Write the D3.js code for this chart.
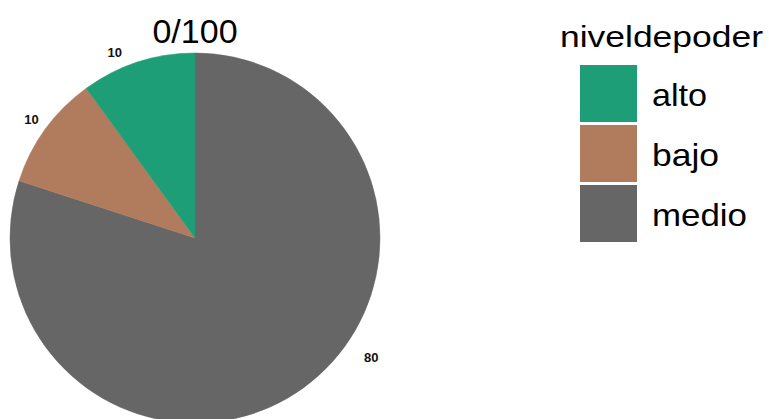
<!DOCTYPE html>
<html>
<head>
<meta charset="utf-8">
<script src="https://cdn.jsdelivr.net/npm/d3@7"></script>
<style>
  html, body { margin: 0; padding: 0; background: #ffffff; }
  svg { display: block; }
  text { font-family: "Liberation Sans", Arial, sans-serif; }
</style>
</head>
<body>
<svg id="chart" width="769" height="419"></svg>
<script>
// Power level counts (out of 100)
const categories = ["alto", "bajo", "medio"];
const values = [10, 10, 80];
const colors = ["#1d9e77", "#b07c5d", "#666666"];
// Where each value label sits around the circle, in the same 0–100 units as the data
const labelPositions = [93.5, 85, 34.5];
const chartTitle = "0/100";
const legendTitle = "niveldepoder";

const svg = d3.select("#chart");

const cx = 195, cy = 238, radius = 185;
const total = d3.sum(values);

// Slices run clockwise from 12 o'clock in reverse category order (medio first)
const order = categories.map((c, i) => i).reverse();
const angle = d3.scaleLinear().domain([0, total]).range([0, 2 * Math.PI]);

const color = d3.scaleOrdinal().domain(categories).range(colors);

const pie = d3.pie()
  .value(i => values[i])
  .sort(null)
  .startAngle(0)
  .endAngle(2 * Math.PI);

const arcs = pie(order);
const arc = d3.arc().innerRadius(0).outerRadius(radius);

const g = svg.append("g").attr("transform", `translate(${cx},${cy})`);

g.selectAll("path.slice")
  .data(arcs)
  .join("path")
  .attr("class", "slice")
  .attr("d", arc)
  .attr("fill", d => color(categories[d.data]))
  .attr("stroke", d => color(categories[d.data]))
  .attr("stroke-width", 0.5);

// Value labels just outside the rim (the big slice's label sits a little further out)
const labelOffset = [17, 17, 28];
g.selectAll("text.val")
  .data(categories.map((c, i) => i))
  .join("text")
  .attr("class", "val")
  .attr("x", i => Math.sin(angle(labelPositions[i])) * (radius + labelOffset[i]))
  .attr("y", i => -Math.cos(angle(labelPositions[i])) * (radius + labelOffset[i]))
  .attr("text-anchor", "middle")
  .attr("dominant-baseline", "central")
  .attr("font-size", 13)
  .attr("font-weight", "bold")
  .attr("fill", "#111")
  .text(i => values[i]);

// Title
svg.append("text")
  .attr("x", cx)
  .attr("y", 42.5)
  .attr("text-anchor", "middle")
  .attr("font-size", 34)
  .attr("fill", "#000")
  .text(chartTitle);

// Legend
const legend = svg.append("g").attr("transform", "translate(580,65)");
legend.append("text")
  .attr("x", -20)
  .attr("y", -18.5)
  .attr("font-size", 30)
  .attr("textLength", 203)
  .attr("lengthAdjust", "spacingAndGlyphs")
  .attr("fill", "#000")
  .text(legendTitle);

const keySize = 57, keyStep = 60;
const keyY = d3.scaleBand().domain(categories).range([0, keyStep * categories.length]).padding(0);
const labelWidths = { alto: 55, bajo: 67, medio: 95 };

const items = legend.selectAll("g.item")
  .data(categories)
  .join("g")
  .attr("class", "item")
  .attr("transform", d => `translate(0,${keyY(d)})`);

items.append("rect")
  .attr("width", keySize)
  .attr("height", keySize)
  .attr("fill", d => color(d));

items.append("text")
  .attr("x", 72)
  .attr("y", keySize / 2 + 12)
  .attr("font-size", 31.5)
  .attr("textLength", d => labelWidths[d])
  .attr("lengthAdjust", "spacingAndGlyphs")
  .attr("fill", "#000")
  .text(d => d);
</script>
</body>
</html>
